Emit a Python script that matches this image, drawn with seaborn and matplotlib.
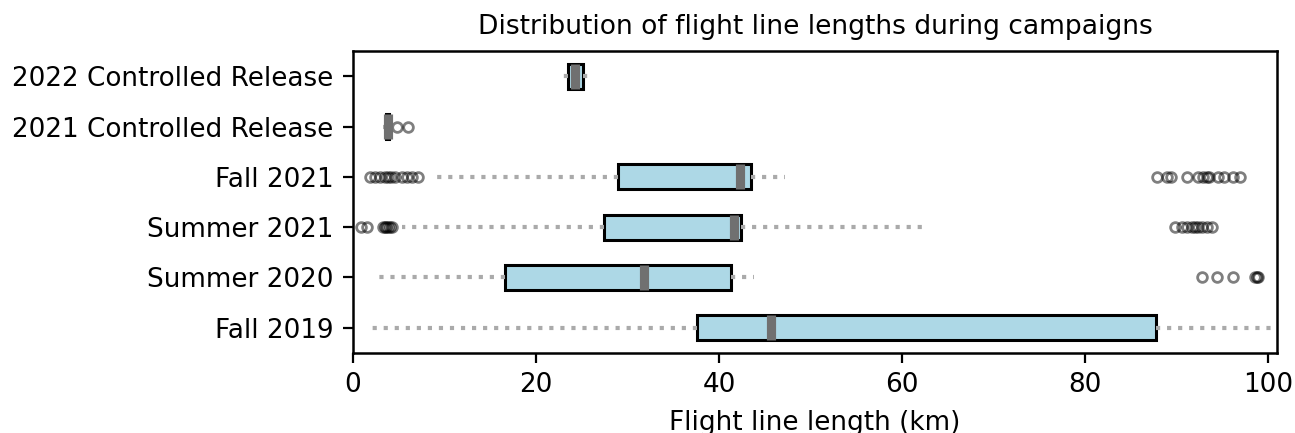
import matplotlib
matplotlib.use("Agg")
import matplotlib.pyplot as plt
import seaborn as sns
import pandas as pd
import numpy as np

# kampanyalar (yukaridan asagiya)
campaigns = ['2022 Controlled Release', '2021 Controlled Release', 'Fall 2021',
             'Summer 2021', 'Summer 2020', 'Fall 2019']

# kutu istatistikleri (km)
whisker_lo = [22.4, 3.3, 8.6, 5.3, 2.5, 1.5]
q1 = [23.5, 3.65, 29.0, 27.4, 16.6, 37.6]
median = [24.3, 3.8, 42.3, 41.6, 31.8, 45.7]
q3 = [25.1, 3.9, 43.5, 42.4, 41.3, 87.8]
whisker_hi = [26.3, 4.0, 47.2, 62.4, 43.8, 104.0]

# aykiri degerler
outliers = {
    '2022 Controlled Release': [],
    '2021 Controlled Release': [4.8, 6.0],
    'Fall 2021': [1.9, 2.4, 2.9, 3.5, 3.8, 4.1, 4.6, 5.3, 5.9, 6.4, 7.1,
                  87.9, 89.0, 89.4, 91.2, 92.4, 92.9, 93.3, 93.6, 94.5, 95.2, 96.2, 97.0],
    'Summer 2021': [0.9, 1.5, 3.3, 3.5, 3.6, 3.8, 4.0, 4.3,
                    89.9, 90.6, 91.2, 91.7, 92.0, 92.4, 92.8, 93.3, 93.9],
    'Summer 2020': [92.8, 94.4, 96.2, 98.6, 98.8, 98.9],
    'Fall 2019': [],
}

# istatistiklerden ornek tablo kur (her blok 20 tekrar -> ceyrekler tam oturur)
rows = []
for i, c in enumerate(campaigns):
    vals = [whisker_lo[i]] + [q1[i]] * 20 + [median[i]] * 20 + [q3[i]] * 20 + [whisker_hi[i]]
    vals = vals + outliers[c]
    rows += [(c, v) for v in vals]
df = pd.DataFrame(rows, columns=['Campaign', 'Length'])

plt.rcParams['font.family'] = ['DejaVu Sans']
plt.rcParams['font.size'] = 9.45

fig, ax = plt.subplots(figsize=(6.475, 2.165), dpi=200)
sns.boxplot(data=df, x='Length', y='Campaign', order=campaigns, orient='h',
            width=0.5, color='lightblue', saturation=1, linecolor='black',
            showcaps=False, ax=ax,
            boxprops=dict(facecolor='lightblue', edgecolor='black', linewidth=1.1),
            whiskerprops=dict(color='#aaaaaa', linestyle=':', linewidth=1.5),
            medianprops=dict(color='#707070', linewidth=3.3),
            flierprops=dict(marker='o', markerfacecolor='none', markeredgecolor='black',
                            markersize=3.5, markeredgewidth=1.0, alpha=0.5))

ax.set_xlim(0, 101)
ax.set_xticks([0, 20, 40, 60, 80, 100])
ax.set_ylabel('')
ax.set_xlabel('Flight line length (km)', fontsize=9.45)
ax.set_title('Distribution of flight line lengths during campaigns', fontsize=9.55)
for s in ax.spines.values():
    s.set_linewidth(0.9)
    s.set_color('black')

plt.subplots_adjust(left=0.2726, right=0.9861, top=0.8822, bottom=0.1848)
plt.savefig('out.png', dpi=200)
